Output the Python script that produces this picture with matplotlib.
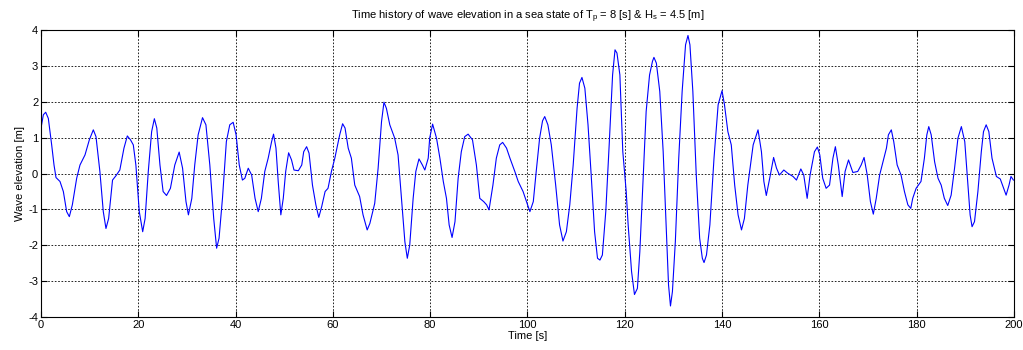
import matplotlib
matplotlib.use("Agg")
import matplotlib.pyplot as plt

plt.rcParams['font.family'] = ['Liberation Sans Narrow', 'Liberation Sans', 'DejaVu Sans']
plt.rcParams['mathtext.default'] = 'regular'
plt.rcParams['axes.unicode_minus'] = False

# time [s] and wave elevation [m]
time_s = [
    0.0, 0.48, 0.96, 1.5, 2.19, 2.67, 3.08, 3.9, 4.59, 5.27, 5.82, 6.44, 7.33, 8.01,
    9.04, 9.93, 10.75, 11.3, 12.1, 12.8, 13.35, 13.9, 14.7, 15.4, 16.2, 17.05, 17.74,
    18.4, 18.97, 19.5, 20.2, 20.9, 21.4, 22.05, 22.74, 23.3, 23.8, 24.45, 25.1, 25.8,
    26.6, 27.5, 28.4, 29.1, 29.8, 30.3, 31.0, 31.6, 32.3, 33.2, 33.9, 34.7, 35.5, 36.1,
    36.6, 37.3, 38.1, 38.8, 39.5, 40.1, 40.75, 41.4, 41.9, 42.6, 43.3, 44.0, 44.65,
    45.3, 46.0, 46.7, 47.4, 47.8, 48.3, 48.76, 49.3, 49.8, 50.3, 50.9, 51.5, 52.0, 52.9,
    53.6, 54.0, 54.6, 55.1, 55.8, 56.5, 57.1, 57.7, 58.4, 59.0, 59.7, 60.4, 61.4, 62.0,
    62.5, 63.15, 63.8, 64.5, 65.5, 66.2, 67.05, 67.6, 68.6, 69.3, 70.0, 70.5, 71.0,
    71.7, 72.7, 73.4, 74.1, 74.8, 75.3, 75.8, 76.5, 77.05, 77.7, 78.4, 78.9, 79.6,
    79.9, 80.5, 81.3, 82.0, 82.7, 83.35, 83.9, 84.5, 85.1, 85.75, 86.4, 87.1, 87.8,
    88.7, 89.5, 90.2, 91.0, 91.6, 92.1, 92.9, 93.6, 94.3, 94.9, 95.7, 96.4, 97.4, 98.1,
    99.1, 99.8, 100.5, 101.2, 101.8, 102.5, 103.1, 103.55, 104.2, 104.9, 105.8, 106.6,
    107.3, 108.0, 108.7, 109.4, 110.2, 110.7, 111.2, 111.8, 112.45, 113.1, 113.8, 114.4,
    114.9, 115.4, 116.1, 116.8, 117.5, 118.0, 118.4, 119.0, 119.6, 120.3, 120.7, 121.4,
    122.0, 122.6, 123.1, 123.8, 124.4, 125.1, 125.7, 126.0, 126.5, 127.2, 127.9, 128.55,
    129.0, 129.4, 129.8, 130.4, 131.1, 131.8, 132.5, 133.0, 133.4, 134.0, 134.7, 135.4,
    135.95, 136.3, 136.8, 137.5, 138.35, 139.2, 140.0, 140.5, 141.2, 141.9, 142.6,
    143.3, 144.0, 144.6, 145.3, 146.4, 147.4, 148.1, 148.6, 149.1, 149.8, 150.6, 151.2,
    151.8, 152.7, 153.5, 154.6, 155.3, 156.2, 156.8, 157.5, 158.1, 159.0, 159.6, 160.1,
    160.7, 161.4, 162.1, 162.8, 163.3, 163.9, 164.7, 165.3, 166.0, 166.9, 167.9, 168.6,
    169.2, 169.85, 170.5, 171.1, 171.7, 172.4, 173.1, 173.8, 174.2, 174.8, 175.3, 176.0,
    176.8, 177.5, 178.2, 178.8, 179.2, 179.9, 180.9, 181.6, 182.1, 182.5, 183.0, 183.7,
    184.4, 185.05, 185.7, 186.4, 187.1, 187.8, 188.5, 189.2, 189.9, 190.5, 191.0, 191.4,
    191.9, 192.6, 193.3, 193.75, 194.3, 194.85, 195.5, 196.4, 197.2, 197.9, 198.4,
    199.0, 199.4, 199.9,
]
elevation_m = [
    1.27, 1.64, 1.71, 1.54, 0.8, 0.24, -0.11, -0.22, -0.5, -1.06, -1.2, -0.87, -0.13, 0.24,
    0.52, 0.94, 1.22, 1.03, 0.06, -1.06, -1.53, -1.25, -0.18, -0.06, 0.1, 0.71, 1.05,
    0.94, 0.8, 0.24, -1.06, -1.62, -1.25, 0.06, 1.17, 1.53, 1.27, 0.24, -0.5, -0.61,
    -0.41, 0.24, 0.6, 0.15, -0.78, -1.15, -0.69, 0.24, 1.08, 1.56, 1.36, 0.24, -1.25, -2.08,
    -1.8, -0.69, 0.89, 1.36, 1.43, 1.08, 0.24, -0.18, -0.13, 0.15, -0.04, -0.69, -1.06,
    -0.69, 0.06, 0.43, 0.89, 1.1, 0.71, -0.22, -1.15, -0.69, 0.06, 0.58, 0.38, 0.1, 0.08,
    0.24, 0.61, 0.75, 0.57, -0.32, -0.87, -1.22, -0.92, -0.5, -0.41, 0.06, 0.43, 1.08, 1.39,
    1.27, 0.71, 0.43, -0.32, -0.64, -1.15, -1.57, -1.39, -0.83, 0.15, 1.45, 1.99, 1.82,
    1.36, 0.99, 0.52, -0.69, -1.9, -2.36, -1.99, -0.69, 0.06, 0.41, 0.24, 0.1, 0.43,
    0.99, 1.38, 0.99, 0.43, -0.22, -0.69, -1.43, -1.78, -1.34, -0.13, 0.61, 1.03, 1.1,
    0.94, 0.24, -0.69, -0.78, -0.87, -1.01, -0.32, 0.43, 0.8, 0.87, 0.71, 0.43, 0.06, -0.22,
    -0.5, -0.78, -1.06, -0.78, 0.06, 0.99, 1.47, 1.59, 1.36, 0.8, -0.32, -1.43,
    -1.88, -1.62, -0.87, 0.24, 1.82, 2.52, 2.68, 2.38, 1.36, -0.04, -1.62, -2.36,
    -2.41, -2.27, -1.06, 0.8, 2.75, 3.45, 3.36, 2.75, 0.61, -0.5, -1.43, -2.73,
    -3.37, -3.2, -2.18, -0.04, 1.73, 2.75, 3.13, 3.24, 3.08, 2.29, 0.61, -1.62,
    -3.1, -3.69, -3.29, -1.9, 0.43, 2.29, 3.59, 3.85, 3.59, 2.29, -0.04, -1.8,
    -2.36, -2.48, -2.27, -1.43, 0.43, 1.92, 2.31, 1.92, 1.17, 0.8, -0.32,
    -1.15, -1.57, -1.25, -0.32, 0.8, 1.22, 0.61, -0.22, -0.61, -0.13, 0.45, 0.15,
    -0.04, 0.1, 0.01, -0.08, -0.18, 0.13, -0.04, -0.69, -0.04, 0.61, 0.74, 0.52,
    -0.13, -0.41, -0.32, 0.43, 0.75, 0.24, -0.64, 0.06, 0.38, 0.03, 0.06, 0.24,
    0.45, -0.04, -0.78, -1.13, -0.69, -0.04, 0.33, 0.71, 1.08, 1.22, 0.89, 0.24,
    -0.04, -0.5, -0.87, -0.97, -0.69, -0.41, -0.22, 0.43, 1.08, 1.31, 1.08, 0.33,
    -0.13, -0.32, -0.69, -0.89, -0.6, 0.15, 0.99, 1.31, 0.89, -0.22, -1.15, -1.48,
    -1.34, -0.5, 0.61, 1.17, 1.36, 1.17, 0.43, -0.08, -0.15, -0.41, -0.6,
    -0.32, -0.08, -0.18,
]

fig = plt.figure(figsize=(10.23, 3.5), dpi=100)
ax = fig.add_axes([0.0401, 0.094, 0.951, 0.820])

ax.plot(time_s, elevation_m, color='#0000ff', linewidth=0.8)

ax.set_xlim(0, 200)
ax.set_ylim(-4, 4)
ax.set_xticks(range(0, 201, 20))
ax.set_yticks(range(-4, 5, 1))
ax.grid(True, color='black', linestyle=(0, (2, 2)), linewidth=0.6)
ax.tick_params(direction='in', length=4, labelsize=8, top=True, right=True,
               labeltop=False, labelright=False, pad=2)
for s in ax.spines.values():
    s.set_linewidth(0.8)

ax.set_xlabel('Time [s]', fontsize=8, labelpad=1)
ax.set_ylabel('Wave elevation [m]', fontsize=8, labelpad=2)
ax.set_title('Time history of wave elevation in a sea state of $T_p$ = 8 [s] & $H_s$ = 4.5 [m]',
             fontsize=8, pad=8)

fig.savefig('out.png', dpi=100)
